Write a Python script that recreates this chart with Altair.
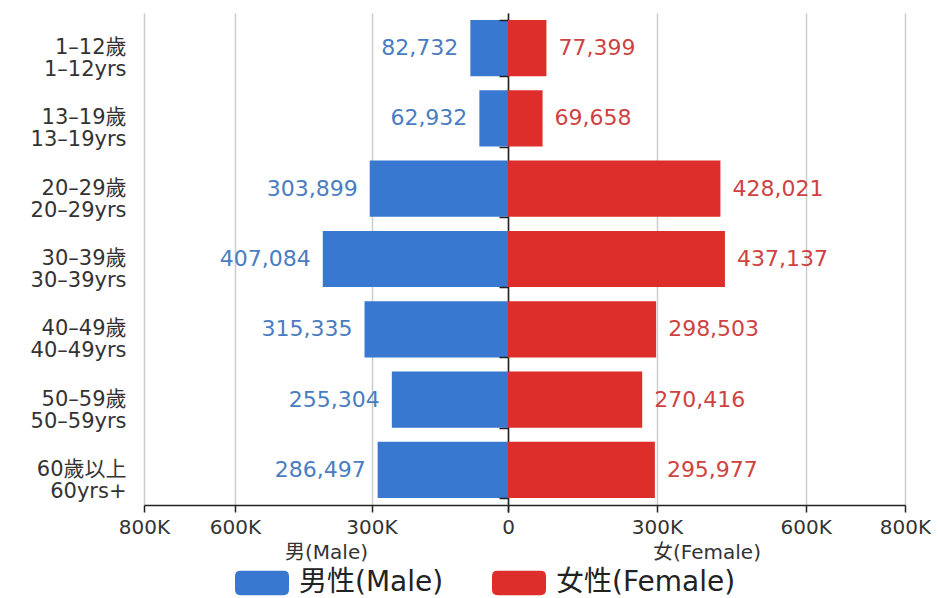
import altair as alt
import pandas as pd

age_groups = [
    "1–12歲\n1–12yrs",
    "13–19歲\n13–19yrs",
    "20–29歲\n20–29yrs",
    "30–39歲\n30–39yrs",
    "40–49歲\n40–49yrs",
    "50–59歲\n50–59yrs",
    "60歲以上\n60yrs+",
]
male_values = [82732, 62932, 303899, 407084, 315335, 255304, 286497]
female_values = [77399, 69658, 428021, 437137, 298503, 270416, 295977]
sexes = ["男性(Male)", "女性(Female)"]
tick_values = [0, 300000, 600000, 800000]

BLUE = "#3878d0"
RED = "#dd2e2b"
BLUE_TXT = "#4a7cc2"
RED_TXT = "#cf4242"
FONT = "DejaVu Sans, Noto Sans CJK TC, sans-serif"

rows = []
for a, m, f in zip(age_groups, male_values, female_values):
    rows.append({"age": a, "sex": sexes[0], "value": m})
    rows.append({"age": a, "sex": sexes[1], "value": f})
df = pd.DataFrame(rows)

fmt_k = "format(datum.value / 1000, 'd') + 'K'"
male_lab_expr = "datum.value == 0 ? '' : " + fmt_k
female_lab_expr = "datum.value == 0 ? '0' : " + fmt_k

legend_symbol = ("M-0.8,-0.45 L0.8,-0.45 Q1,-0.45 1,-0.25 L1,0.25 Q1,0.45 0.8,0.45 "
                 "L-0.8,0.45 Q-1,0.45 -1,0.25 L-1,-0.25 Q-1,-0.45 -0.8,-0.45 Z")

color = alt.Color(
    "sex:N",
    scale=alt.Scale(domain=sexes, range=[BLUE, RED]),
    legend=alt.Legend(
        title=None,
        orient="none",
        direction="horizontal",
        legendX=91,
        legendY=543,
        symbolType=legend_symbol,
        symbolSize=2916,
        symbolStrokeWidth=0,
        symbolOpacity=1,
        labelFontSize=28,
        labelFont=FONT,
        labelColor="#222",
        labelOffset=10,
        columnPadding=48,
        labelLimit=400,
        padding=0,
    ),
)

yscale = alt.Scale(paddingInner=0.2, paddingOuter=0.1)


def x_enc(title, reverse, lab_expr):
    return alt.X(
        "value:Q",
        scale=alt.Scale(domain=[0, 800000], reverse=reverse, nice=False),
        axis=alt.Axis(
            values=tick_values,
            labelExpr=lab_expr,
            labelFlush=False,
            title=title,
            grid=True,
            labelFontSize=20,
            labelFont=FONT,
            labelColor="#333",
            labelPadding=5,
            titleFontSize=20,
            titleFont=FONT,
            titleFontWeight="normal",
            titleColor="#333",
            titlePadding=5,
            tickSize=7,
        ),
    )


male_y = alt.Y(
    "age:N",
    sort=age_groups,
    scale=yscale,
    axis=alt.Axis(
        title=None,
        labelExpr="split(datum.label, '\\n')",
        ticks=False,
        domain=False,
        labelFontSize=21,
        labelLineHeight=22,
        labelFont=FONT,
        labelColor="#333",
        labelPadding=18,
        labelLimit=300,
    ),
)

female_y = alt.Y(
    "age:N",
    sort=age_groups,
    scale=yscale,
    axis=alt.Axis(
        title=None,
        labels=False,
        ticks=True,
        tickBand="extent",
        tickSize=9,
        domain=True,
    ),
)

base = alt.Chart(df)

male_x = x_enc("男(Male)", True, male_lab_expr)
male_base = base.transform_filter(alt.datum.sex == sexes[0])
male_bars = male_base.mark_bar().encode(x=male_x, y=male_y, color=color)
male_text = male_base.mark_text(
    align="right", baseline="middle", dx=-12, fontSize=22, font=FONT, color=BLUE_TXT
).encode(x=male_x, y=male_y, text=alt.Text("value:Q", format=","))
male_chart = alt.layer(male_bars, male_text).properties(width=364, height=492)

female_x = x_enc("女(Female)", False, female_lab_expr)
female_base = base.transform_filter(alt.datum.sex == sexes[1])
female_bars = female_base.mark_bar().encode(x=female_x, y=female_y, color=color)
female_text = female_base.mark_text(
    align="left", baseline="middle", dx=12, fontSize=22, font=FONT, color=RED_TXT
).encode(x=female_x, y=female_y, text=alt.Text("value:Q", format=","))
female_chart = alt.layer(female_bars, female_text).properties(width=397, height=492)

chart = (
    alt.hconcat(male_chart, female_chart, spacing=0, bounds="flush")
    .properties(padding={"left": 22, "top": 5, "right": 0, "bottom": 0})
    .configure_view(stroke=None)
    .configure_axis(
        domainColor="#222",
        tickColor="#222",
        domainWidth=1.5,
        tickWidth=1.5,
        gridColor="#cccccc",
        gridWidth=1.5,
    )
)

chart.save("out.html", embed_options={"renderer": "svg", "actions": False})
